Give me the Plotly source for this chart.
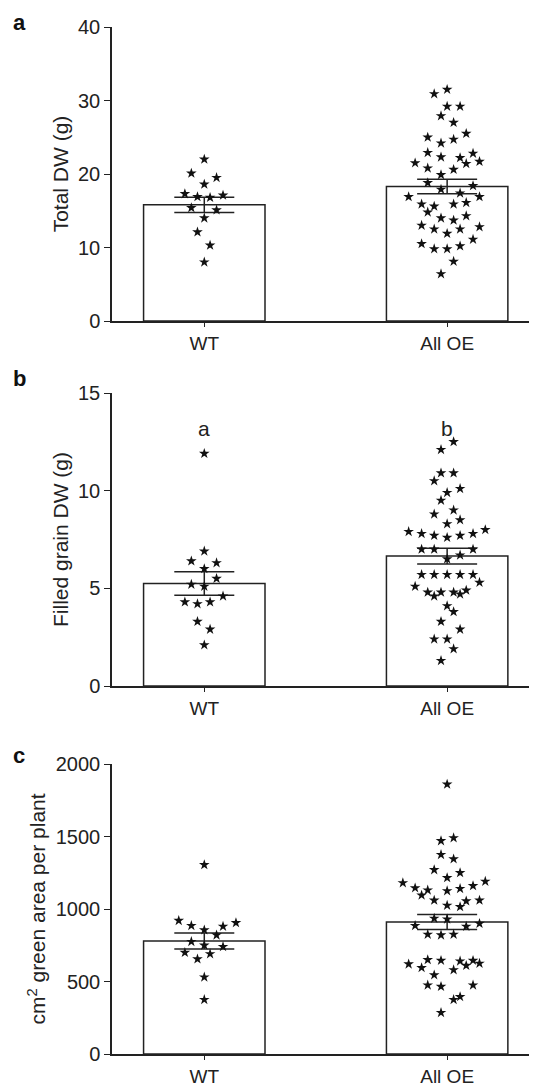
import plotly.graph_objects as go

cats = ["WT", "All OE"]
CW = 713.0
# panel a: (zoom x, value)
a_wt = [(595,22),(557,20.1),(631,19.5),(595,18.6),(538,17.3),(575,16.9),(612,16.8),(650,17.1),(557,15.4),(631,15.1),(595,14),(575,12.1),(612,10.3),(595,8)]
a_oe = [(1308,31.5),(1270,30.9),(1308,29.2),(1346,29.2),(1290,27.9),(1327,27),(1364,25.5),(1251,25),(1327,24.7),(1290,24.2),(1251,22.9),(1384,22.8),(1290,22.3),(1346,22.2),(1214,21.5),(1403,21.7),(1364,21.4),(1251,20.8),(1327,20.6),(1290,19.9),(1251,18.8),(1290,17.9),(1384,18.4),(1346,17.4),(1195,16.9),(1403,16.9),(1233,15.9),(1270,15.6),(1327,15.9),(1364,16.1),(1251,14.8),(1290,14),(1327,13.7),(1364,14.3),(1233,13),(1270,12.5),(1308,11.9),(1346,12.5),(1403,12.8),(1233,10.5),(1270,9.8),(1308,9.8),(1346,10.2),(1384,11.1),(1327,8.1),(1290,6.4)]
a_mean = [15.8, 18.3]
a_sem = [1.05, 1.0]

b_wt = [(595,11.9),(595,6.9),(557,6.4),(631,6.3),(595,6.0),(631,5.5),(557,5.2),(595,5.1),(650,4.6),(538,4.3),(575,4.2),(612,4.3),(575,3.3),(612,2.9),(595,2.1)]
b_oe = [(1327,12.5),(1290,12.1),(1290,10.9),(1327,10.9),(1270,10.5),(1308,9.9),(1346,10.1),(1290,9.5),(1327,9.0),(1270,8.8),(1346,8.5),(1308,8.3),(1195,7.9),(1233,7.8),(1270,7.7),(1308,7.6),(1346,7.7),(1384,7.8),(1420,8.0),(1233,7.0),(1270,7.0),(1384,7.0),(1346,6.7),(1308,6.5),(1233,5.7),(1270,5.7),(1308,5.7),(1346,5.7),(1384,5.7),(1403,5.3),(1214,5.1),(1251,4.8),(1270,4.6),(1290,4.8),(1327,4.8),(1346,4.7),(1364,4.9),(1308,4.1),(1327,3.8),(1290,3.3),(1346,2.9),(1270,2.4),(1308,2.4),(1327,1.9),(1290,1.3)]
b_mean = [5.25, 6.65]
b_sem = [0.6, 0.4]
b_letters = ["a", "b"]

c_wt = [(595,1305),(520,920),(557,885),(595,855),(650,880),(688,905),(631,820),(557,775),(595,750),(650,740),(538,700),(575,655),(612,690),(595,530),(595,375)]
c_oe = [(1308,1860),(1327,1490),(1290,1470),(1290,1375),(1327,1345),(1270,1270),(1346,1250),(1308,1215),(1178,1180),(1420,1190),(1214,1145),(1251,1130),(1233,1095),(1308,1125),(1346,1140),(1384,1160),(1270,1060),(1308,1025),(1346,1015),(1364,1055),(1403,1060),(1270,935),(1308,930),(1214,885),(1364,880),(1403,900),(1251,825),(1290,820),(1327,825),(1195,620),(1233,595),(1251,650),(1290,645),(1346,640),(1364,610),(1384,645),(1403,625),(1270,545),(1327,580),(1251,475),(1290,465),(1384,475),(1327,375),(1346,395),(1290,285)]
c_mean = [780, 910]
c_sem = [55, 52]

OFF = 8
W = 537 - OFF; H = 1086 - OFF; B = 17; PH = H - B
L = 112 - OFF
def frac(px): return (PH - (px - OFF)) / PH

panels = [
    dict(wt=a_wt, oe=a_oe, mean=a_mean, sem=a_sem, rng=[0,40], dt=[0,10,20,30,40], dom=[frac(321), frac(27)], title="Total DW (g)", letter="a", ly=22),
    dict(wt=b_wt, oe=b_oe, mean=b_mean, sem=b_sem, rng=[0,15], dt=[0,5,10,15], dom=[frac(686), frac(393)], title="Filled grain DW (g)", letter="b", ly=378),
    dict(wt=c_wt, oe=c_oe, mean=c_mean, sem=c_sem, rng=[0,2000], dt=[0,500,1000,1500,2000], dom=[frac(1054), frac(764)], title="cm<sup>2</sup> green area per plant", letter="c", ly=755),
]

fig = go.Figure()
ann = []
for i, p in enumerate(panels, start=1):
    xa = "x" if i == 1 else f"x{i}"
    ya = "y" if i == 1 else f"y{i}"
    fig.add_trace(go.Bar(x=[0, 1], y=p["mean"], width=0.5, xaxis=xa, yaxis=ya,
        marker=dict(color="white", line=dict(color="#222", width=1.5)),
        error_y=dict(type="data", array=p["sem"], visible=True, color="#222", thickness=1.5, width=30),
        showlegend=False))
    xs = [(zx - 595) / CW for zx, v in p["wt"]] + [1 + (zx - 1308) / CW for zx, v in p["oe"]]
    ys = [v for zx, v in p["wt"]] + [v for zx, v in p["oe"]]
    fig.add_trace(go.Scatter(x=xs, y=ys, mode="markers", xaxis=xa, yaxis=ya,
        marker=dict(symbol="star", size=8, color="#111"), showlegend=False))
    fig.update_layout(**{
        ("xaxis" if i == 1 else f"xaxis{i}"): dict(domain=[0, 1], range=[-0.38, 1.37], anchor=ya,
            tickvals=[0, 1], ticktext=cats, showline=True, linecolor="#222", linewidth=1.5,
            ticks="outside", ticklen=4, tickcolor="#222", showgrid=False, zeroline=False,
            automargin=False, tickfont=dict(size=19, color="#222")),
        ("yaxis" if i == 1 else f"yaxis{i}"): dict(domain=p["dom"], range=p["rng"], anchor=xa,
            tickvals=p["dt"], showline=True, linecolor="#222", linewidth=1.5, ticks="outside",
            ticklen=6, tickcolor="#222", showgrid=False, zeroline=False, automargin=False,
            tickfont=dict(size=20, color="#222"),
            title=dict(text=p["title"], font=dict(size=21, color="#222"), standoff=4)),
    })
    ann.append(dict(text=f"<b>{p['letter']}</b>", xref="paper", yref="paper", x=-(L-3)/(W-L), y=frac(p["ly"]),
        xanchor="left", yanchor="middle", showarrow=False, font=dict(size=22, color="#111")))
for j, t in enumerate(b_letters):
    ann.append(dict(text=t, x=j, y=13.2, xref="x2", yref="y2", showarrow=False, font=dict(size=21, color="#222")))

fig.update_layout(width=W, height=H, margin=dict(l=L, r=0, t=0, b=B, autoexpand=False),
    plot_bgcolor="white", paper_bgcolor="white", annotations=ann,
    font=dict(family="Liberation Sans, Arial"))
fig.write_html("out.html")
